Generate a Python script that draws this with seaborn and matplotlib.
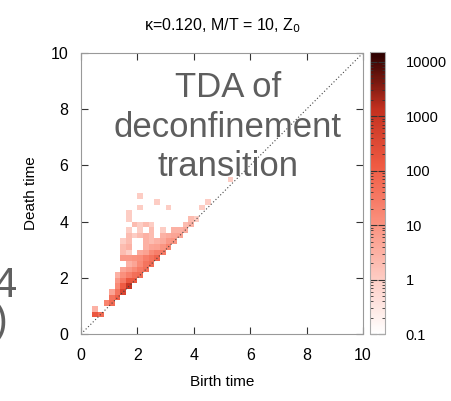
import numpy as np
import pandas as pd
import seaborn as sns
import matplotlib.pyplot as plt
from matplotlib.colors import LogNorm, LinearSegmentedColormap

# persistence diagram cells: (birth bin start, death bin start, count), bin = 0.2
cells = [
    (0.4, 0.6, 150), (0.6, 0.6, 60), (0.4, 0.8, 3),
    (0.8, 1.0, 20), (1.0, 1.0, 60),
    (1.0, 1.2, 40), (1.2, 1.2, 100),
    (1.0, 1.4, 5), (1.2, 1.4, 40), (1.4, 1.4, 400),
    (1.2, 1.6, 15), (1.4, 1.6, 120), (1.6, 1.6, 1000),
    (1.2, 1.8, 8), (1.4, 1.8, 30), (1.6, 1.8, 150), (1.8, 1.8, 150),
    (1.2, 2.0, 3), (1.4, 2.0, 12), (1.6, 2.0, 25), (1.8, 2.0, 50), (2.0, 2.0, 60),
    (1.4, 2.2, 5), (1.6, 2.2, 8), (1.8, 2.2, 15), (2.0, 2.2, 30), (2.2, 2.2, 50),
    (1.6, 2.4, 3), (1.8, 2.4, 5), (2.0, 2.4, 15), (2.2, 2.4, 40), (2.4, 2.4, 60),
    (1.4, 2.6, 8), (1.6, 2.6, 8), (1.8, 2.6, 10), (2.0, 2.6, 12), (2.2, 2.6, 25),
    (2.4, 2.6, 40), (2.6, 2.6, 80),
    (1.4, 2.8, 2), (1.6, 2.8, 1), (2.0, 2.8, 4), (2.2, 2.8, 6), (2.4, 2.8, 15),
    (2.6, 2.8, 25), (2.8, 2.8, 30),
    (1.4, 3.0, 2), (1.6, 3.0, 3), (2.2, 3.0, 3), (2.4, 3.0, 5), (2.6, 3.0, 6),
    (2.8, 3.0, 10), (3.0, 3.0, 20),
    (1.4, 3.2, 1), (1.6, 3.2, 2), (2.2, 3.2, 3), (2.4, 3.2, 2), (2.6, 3.2, 3),
    (2.8, 3.2, 4), (3.0, 3.2, 8), (3.2, 3.2, 10),
    (1.6, 3.4, 2), (1.8, 3.4, 1), (2.0, 3.4, 2), (2.2, 3.4, 3), (2.4, 3.4, 2),
    (2.8, 3.4, 3), (3.0, 3.4, 4), (3.2, 3.4, 5), (3.4, 3.4, 6),
    (1.6, 3.6, 1), (2.0, 3.6, 1), (2.4, 3.6, 2), (2.8, 3.6, 1), (3.2, 3.6, 3),
    (3.4, 3.6, 3), (3.6, 3.6, 4),
    (1.8, 3.8, 2), (2.0, 3.8, 1), (2.2, 3.8, 2), (2.4, 3.8, 1), (3.6, 3.8, 2),
    (3.8, 3.8, 3),
    (1.6, 4.0, 1), (3.8, 4.0, 2), (4.0, 4.0, 1),
    (1.6, 4.2, 1), (4.2, 4.4, 1),
    (2.0, 4.4, 1), (3.0, 4.4, 1),
    (2.6, 4.6, 1), (4.4, 4.6, 1),
    (2.0, 4.8, 1),
    (5.2, 5.4, 1),
]
df = pd.DataFrame(cells, columns=["birth", "death", "count"])
df["birth"] += 0.1
df["death"] += 0.1

cbar_ticks = [0.1, 1, 10, 100, 1000, 10000]
cbar_labels = ["0.1", "1", "10", "100", "1000", "10000"]

cmap = LinearSegmentedColormap.from_list(
    "gp_reds", ["#ffffff", "#fdcbc2", "#fa8f7c", "#ef5a42", "#c2301f", "#2a0000"])

plt.rcParams["font.family"] = ["Liberation Sans", "DejaVu Sans"]

fig = plt.figure(figsize=(4.51, 4.01), dpi=100)
ax = fig.add_axes([0.1796, 0.167, 0.6253, 0.701])
cax = fig.add_axes([0.820, 0.167, 0.033, 0.703])

sns.histplot(data=df, x="birth", y="death", weights="count", binwidth=0.2,
             binrange=((0, 10), (0, 10)), cmap=cmap, ax=ax)
mesh = ax.collections[0]
mesh.set_norm(LogNorm(vmin=0.1, vmax=15000))
cbar = fig.colorbar(mesh, cax=cax)

ax.plot([0, 10], [0, 10], ls=(0, (1, 2)), color="#444444", lw=0.8)
ax.set_xlim(0, 10)
ax.set_ylim(0, 10)
ax.set_xticks([0, 2, 4, 6, 8, 10])
ax.set_yticks([0, 2, 4, 6, 8, 10])
ax.tick_params(direction="in", length=5, top=True, right=True, labelsize=11.5,
               color="#333333")
ax.tick_params(axis="x", pad=10)
ax.tick_params(axis="y", pad=9)
for s in ax.spines.values():
    s.set_color("#999999")
ax.set_xlabel("Birth time", fontsize=11, labelpad=9)
ax.set_ylabel("Death time", fontsize=11, labelpad=9)
ax.set_title("\u03ba=0.120, M/T = 10, Z$_0$", fontsize=11.5, pad=16)

ax.text(5.2, 7.35, "TDA of\ndeconfinement\ntransition", fontsize=25,
        color="#5e5e5e", ha="center", va="center", linespacing=1.25)

cax.set_yticks(cbar_ticks)
cax.set_yticklabels(cbar_labels)
cax.tick_params(which="both", direction="in", left=True, right=True,
                color="#333333", labelsize=10.5, pad=15)
cax.tick_params(which="major", length=5)
cax.tick_params(which="minor", length=2.5)
cbar.outline.set_edgecolor("#aaaaaa")

# fragments of neighbouring slide text
fig.text(0.038, 0.26, "4", fontsize=30, color="#606060", ha="right")
fig.text(0.016, 0.17, ")", fontsize=30, color="#606060", ha="right")

fig.savefig("out.png", dpi=100)
